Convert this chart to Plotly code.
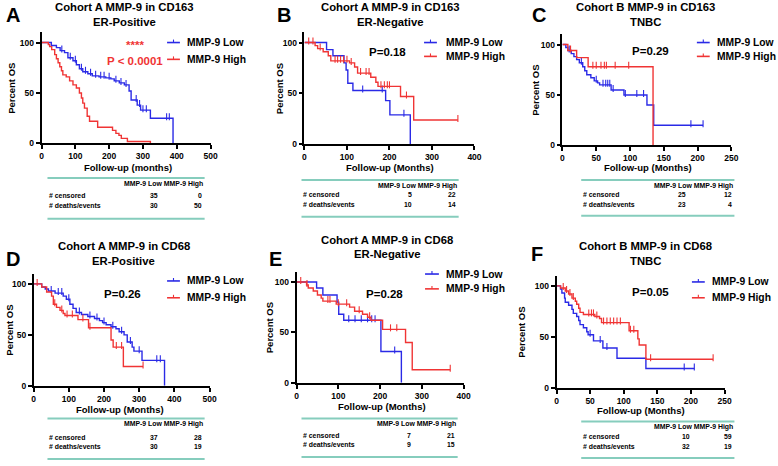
import plotly.graph_objects as go

# ---------------- data ----------------
A_low_t = [0, 29, 44, 55, 68, 78, 93, 103, 112, 122, 137, 150, 170, 190, 205, 215, 230, 245, 259, 265, 283, 293, 322, 389]
A_low_s = [100, 97, 95, 92, 90, 85, 82, 78, 74, 71, 69, 67, 66, 65, 64, 62, 60, 58, 52, 43, 38, 33, 25, 0]
A_low_c = [60, 85, 100, 118, 130, 145, 160, 175, 185, 200, 220, 235, 250, 280, 290, 300, 310, 370, 378]
A_high_t = [0, 20, 24, 30, 39, 44, 49, 54, 59, 63, 73, 83, 93, 103, 112, 118, 122, 127, 135, 142, 166, 210, 220, 229, 236, 254, 322]
A_high_s = [100, 98, 96, 93, 88, 84, 80, 76, 72, 68, 66, 62, 58, 55, 50, 45, 40, 35, 27, 22, 16, 13, 10, 8, 5, 2, 0]
A_high_c = []

B_low_t = [0, 52, 67, 93, 98, 102, 114, 191, 201, 249]
B_low_s = [100, 93, 87, 80, 73, 60, 53, 43, 29, 0]
B_low_c = [137, 183, 234]
B_high_t = [0, 25, 31, 44, 56, 62, 106, 118, 125, 156, 168, 173, 226, 257, 361]
B_high_s = [100, 97, 94, 91, 87, 82, 80, 76, 70, 66, 61, 57, 47, 24, 24]
B_high_c = [10, 20, 37, 72, 78, 85, 92, 100, 110, 132, 145, 152, 180, 188, 195, 200, 240, 361]

C_low_t = [0, 5, 8, 13, 17, 21, 25, 30, 33, 36, 42, 47, 52, 55, 72, 91, 125, 135, 208]
C_low_s = [100, 97, 94, 91, 88, 85, 82, 78, 74, 70, 67, 64, 62, 60, 55, 50, 40, 20, 20]
C_low_c = [10, 28, 50, 60, 64, 67, 70, 75, 93, 110, 120, 190, 208]
C_high_t = [0, 8, 21, 38, 134]
C_high_s = [100, 94, 87, 78, 0]
C_high_c = [12, 45, 50, 57, 62, 65, 78, 98]

D_low_t = [0, 23, 33, 42, 61, 84, 93, 103, 112, 121, 136, 154, 173, 187, 196, 206, 220, 234, 243, 257, 266, 280, 285, 308, 372]
D_low_s = [100, 97, 95, 93, 91, 88, 85, 80, 76, 72, 70, 68, 66, 64, 62, 60, 58, 56, 53, 50, 43, 38, 34, 25, 0]
D_low_c = [50, 70, 80, 100, 130, 160, 180, 200, 225, 250, 275, 300, 350, 360]
D_high_t = [0, 23, 37, 51, 56, 65, 75, 84, 89, 126, 156, 220, 226, 255, 311]
D_high_s = [100, 97, 92, 88, 80, 77, 74, 71, 69, 65, 57, 45, 38, 19, 19]
D_high_c = [10, 60, 80, 95, 110, 140, 160, 235, 250, 311]

E_low_t = [0, 48, 63, 97, 101, 113, 202, 251]
E_low_s = [100, 94, 87, 80, 68, 62, 31, 0]
E_low_c = [125, 140, 155, 170, 180, 188, 235]
E_high_t = [0, 24, 28, 40, 50, 59, 63, 95, 127, 139, 158, 170, 178, 206, 261, 277, 368]
E_high_s = [100, 97, 94, 91, 87, 84, 81, 78, 75, 71, 68, 65, 62, 53, 40, 13, 13]
E_high_c = [10, 25, 75, 80, 100, 120, 150, 175, 225, 240, 368]

F_low_t = [0, 6, 8, 12, 13, 18, 23, 25, 30, 33, 35, 40, 45, 47, 55, 69, 90, 133, 205]
F_low_s = [100, 97, 93, 88, 84, 81, 77, 73, 70, 66, 62, 59, 55, 52, 46, 39, 29, 19, 19]
F_low_c = [50, 65, 75, 190, 205]
F_high_t = [0, 6, 13, 18, 23, 28, 30, 33, 35, 40, 57, 64, 67, 108, 121, 123, 133, 233]
F_high_s = [100, 98, 95, 92, 88, 85, 82, 78, 74, 72, 70, 68, 64, 56, 48, 42, 28, 28]
F_high_c = [10, 15, 20, 25, 48, 52, 55, 60, 70, 75, 80, 85, 90, 95, 110, 115, 140, 233]

letters = ["A", "B", "C", "D", "E", "F"]
titles1 = ["Cohort A MMP-9 in CD163", "Cohort A MMP-9 in CD163", "Cohort B MMP-9 in CD163",
           "Cohort A MMP-9 in CD68", "Cohort A MMP-9 in CD68", "Cohort B MMP-9 in CD68"]
titles2 = ["ER-Positive", "ER-Negative", "TNBC", "ER-Positive", "ER-Negative", "TNBC"]
pvals = ["P < 0.0001", "P=0.18", "P=0.29", "P=0.26", "P=0.28", "P=0.05"]
xlabels = ["Follow-up (months)"] + ["Follow-up (Months)"] * 5
xmax = [500, 400, 250, 500, 400, 250]
xtick_vals = [[0, 100, 200, 300, 400, 500], [0, 100, 200, 300, 400], [0, 50, 100, 150, 200, 250],
              [0, 100, 200, 300, 400, 500], [0, 100, 200, 300, 400], [0, 50, 100, 150, 200, 250]]
ytick_vals = [0, 50, 100]
series_names = ["MMP-9 Low", "MMP-9 High"]
table_header = "MMP-9 Low MMP-9 High"
censored_low = [35, 5, 25, 37, 7, 10]
censored_high = [0, 22, 12, 28, 21, 59]
events_low = [30, 10, 23, 30, 9, 32]
events_high = [50, 14, 4, 19, 15, 19]

curves = [
    ((A_low_t, A_low_s, A_low_c), (A_high_t, A_high_s, A_high_c)),
    ((B_low_t, B_low_s, B_low_c), (B_high_t, B_high_s, B_high_c)),
    ((C_low_t, C_low_s, C_low_c), (C_high_t, C_high_s, C_high_c)),
    ((D_low_t, D_low_s, D_low_c), (D_high_t, D_high_s, D_high_c)),
    ((E_low_t, E_low_s, E_low_c), (E_high_t, E_high_s, E_high_c)),
    ((F_low_t, F_low_s, F_low_c), (F_high_t, F_high_s, F_high_c)),
]

# ---------------- layout geometry (pixels) ----------------
W, H = 778, 466
BLUE = "#2a2ae6"
RED = "#f03434"
TEAL = "#86cdbd"
FONT = "Liberation Sans, Arial, sans-serif"

def fx(p):
    return p / W

def fy(p):
    return 1 - p / H

# x0px, x1px, y0px(value 0), y100px
geo = [
    (40, 211, 145, 43),
    (306, 478, 146, 43),
    (567, 738, 147, 45),
    (32, 210, 390, 287),
    (298, 467, 387, 285),
    (561, 731, 392, 289),
]
letter_pos = [(11, 15), (285, 15), (543, 15), (11, 262), (277, 262), (541, 257)]
title_pos = [(124, 7, 22), (393, 7, 22), (651, 7, 22), (123, 249, 264), (390, 243, 257), (651, 249, 264)]
pval_pos = [(135, 62), (390, 53), (656, 52), (122, 297), (387, 297), (656, 295)]
legend_pos = [(167, 180, 185, 43, 60), (427, 440, 447, 43, 57), (703, 716, 721, 43, 57),
              (167, 180, 185, 284, 301), (428, 442, 447, 277, 292), (698, 711, 716, 285, 301)]
xlab_pos = [(127, 169), (393, 169), (654, 169), (119, 414), (384, 411), (646, 415)]
ylab_x = [10, 281, 540, 8, 270, 526]
# table: line x0, x1, top, header y, row1 y, row2 y, bottom, col1 end, col2 end
table_geo = [
    (46, 205, 180, 186, 198, 208, 221, 160, 204),
    (303, 462, 182, 188, 197, 207, 219, 417, 461),
    (586, 741, 182, 188, 197, 207, 218, 694, 741),
    (46, 205, 423, 429, 442, 451, 464, 160, 204),
    (303, 461, 423, 429, 440, 449, 462, 416, 460),
    (586, 741, 426, 432, 441, 451, 463, 698, 741),
]

YTOP = 110

def step_value(ts, ss, t):
    v = ss[0]
    for ti, si in zip(ts, ss):
        if ti <= t:
            v = si
        else:
            break
    return v

fig = go.Figure()
annotations = []
shapes = []

for i in range(6):
    n = i + 1
    xa = "x" if n == 1 else f"x{n}"
    ya = "y" if n == 1 else f"y{n}"
    x0, x1, y0, y100 = geo[i]
    ytop_px = y0 - (y0 - y100) * YTOP / 100.0

    for (ts, ss, cs), color, name in zip(curves[i], [BLUE, RED], series_names):
        fig.add_trace(go.Scatter(
            x=ts, y=ss, mode="lines", line=dict(color=color, width=1.4, shape="hv"),
            xaxis=xa, yaxis=ya, showlegend=False, name=name, cliponaxis=False))
        if cs:
            fig.add_trace(go.Scatter(
                x=cs, y=[step_value(ts, ss, c) + 1.5 for c in cs], mode="markers",
                marker=dict(symbol="line-ns", size=5, line=dict(color=color, width=1.1)),
                xaxis=xa, yaxis=ya, showlegend=False, name=name + " censored", cliponaxis=False))

    axis_common = dict(showline=True, linecolor="black", linewidth=1.6, ticks="outside",
                       ticklen=4, tickwidth=1.5, tickcolor="black", showgrid=False, zeroline=False,
                       tickfont=dict(family=FONT, size=8.5, color="black", weight="bold"))
    fig.layout[("xaxis" if n == 1 else f"xaxis{n}")] = dict(
        domain=[fx(x0), fx(x1)], range=[0, xmax[i]], anchor=ya,
        tickvals=xtick_vals[i], ticktext=[str(v) for v in xtick_vals[i]], **axis_common)
    fig.layout[("yaxis" if n == 1 else f"yaxis{n}")] = dict(
        domain=[fy(y0), fy(ytop_px)], range=[0, YTOP], anchor=xa,
        tickvals=ytick_vals, ticktext=[str(v) for v in ytick_vals], **axis_common)

    # panel letter
    lx, ly = letter_pos[i]
    annotations.append(dict(x=fx(lx), y=fy(ly), xref="paper", yref="paper", text=letters[i],
                            showarrow=False, xanchor="center", yanchor="middle",
                            font=dict(family=FONT, size=20, color="black", weight="bold")))
    # title
    tx, t1, t2 = title_pos[i]
    for txt, yy in ((titles1[i], t1), (titles2[i], t2)):
        annotations.append(dict(x=fx(tx), y=fy(yy), xref="paper", yref="paper", text=txt,
                                showarrow=False, xanchor="center", yanchor="middle",
                                font=dict(family=FONT, size=11.3, color="black", weight="bold")))
    # p-value
    px_, py_ = pval_pos[i]
    pcol = RED if i == 0 else "black"
    annotations.append(dict(x=fx(px_), y=fy(py_), xref="paper", yref="paper", text=pvals[i],
                            showarrow=False, xanchor="center", yanchor="middle",
                            font=dict(family=FONT, size=11.5, color=pcol, weight="bold")))
    if i == 0:
        annotations.append(dict(x=fx(135), y=fy(45), xref="paper", yref="paper", text="****",
                                showarrow=False, xanchor="center", yanchor="middle",
                                font=dict(family=FONT, size=11.5, color=RED, weight="bold")))
    # legend
    l0, l1, ltx, lyl, lyh = legend_pos[i]
    for yy, color, name in ((lyl, BLUE, series_names[0]), (lyh, RED, series_names[1])):
        shapes.append(dict(type="line", xref="paper", yref="paper", x0=fx(l0), x1=fx(l1),
                           y0=fy(yy), y1=fy(yy), line=dict(color=color, width=1.6)))
        mid = (l0 + l1) / 2
        shapes.append(dict(type="line", xref="paper", yref="paper", x0=fx(mid), x1=fx(mid),
                           y0=fy(yy), y1=fy(yy - 3), line=dict(color=color, width=1.1)))
        annotations.append(dict(x=fx(ltx), y=fy(yy), xref="paper", yref="paper", text=name,
                                showarrow=False, xanchor="left", yanchor="middle",
                                font=dict(family=FONT, size=10.3, color="black", weight="bold")))
    # axis titles
    xlx, xly = xlab_pos[i]
    annotations.append(dict(x=fx(xlx), y=fy(xly), xref="paper", yref="paper", text=xlabels[i],
                            showarrow=False, xanchor="center", yanchor="middle",
                            font=dict(family=FONT, size=9.5, color="black", weight="bold")))
    annotations.append(dict(x=fx(ylab_x[i]), y=fy((y0 + ytop_px) / 2), xref="paper", yref="paper",
                            text="Percent OS", textangle=-90, showarrow=False,
                            xanchor="center", yanchor="middle",
                            font=dict(family=FONT, size=9.5, color="black", weight="bold")))
    # table
    tx0, tx1, ttop, thead, tr1, tr2, tbot, c1, c2 = table_geo[i]
    for yy in (ttop, tbot):
        shapes.append(dict(type="line", xref="paper", yref="paper", x0=fx(tx0), x1=fx(tx1),
                           y0=fy(yy), y1=fy(yy), line=dict(color=TEAL, width=2)))
    tfont = dict(family=FONT, size=6.9, color="black", weight="bold")
    annotations.append(dict(x=fx(c2 + 1), y=fy(thead), xref="paper", yref="paper", text=table_header,
                            showarrow=False, xanchor="right", yanchor="middle", font=tfont))
    for yy, lab, va, vb in ((tr1, "# censored", censored_low[i], censored_high[i]),
                            (tr2, "# deaths/events", events_low[i], events_high[i])):
        annotations.append(dict(x=fx(tx0), y=fy(yy), xref="paper", yref="paper", text=lab,
                                showarrow=False, xanchor="left", yanchor="middle", font=tfont))
        annotations.append(dict(x=fx(c1), y=fy(yy), xref="paper", yref="paper", text=str(va),
                                showarrow=False, xanchor="right", yanchor="middle", font=tfont))
        annotations.append(dict(x=fx(c2), y=fy(yy), xref="paper", yref="paper", text=str(vb),
                                showarrow=False, xanchor="right", yanchor="middle", font=tfont))

fig.update_layout(
    width=W, height=H, margin=dict(l=0, r=0, t=0, b=0),
    paper_bgcolor="white", plot_bgcolor="white",
    showlegend=False, annotations=annotations, shapes=shapes,
    font=dict(family=FONT, color="black"),
)

fig.write_html("out.html")
